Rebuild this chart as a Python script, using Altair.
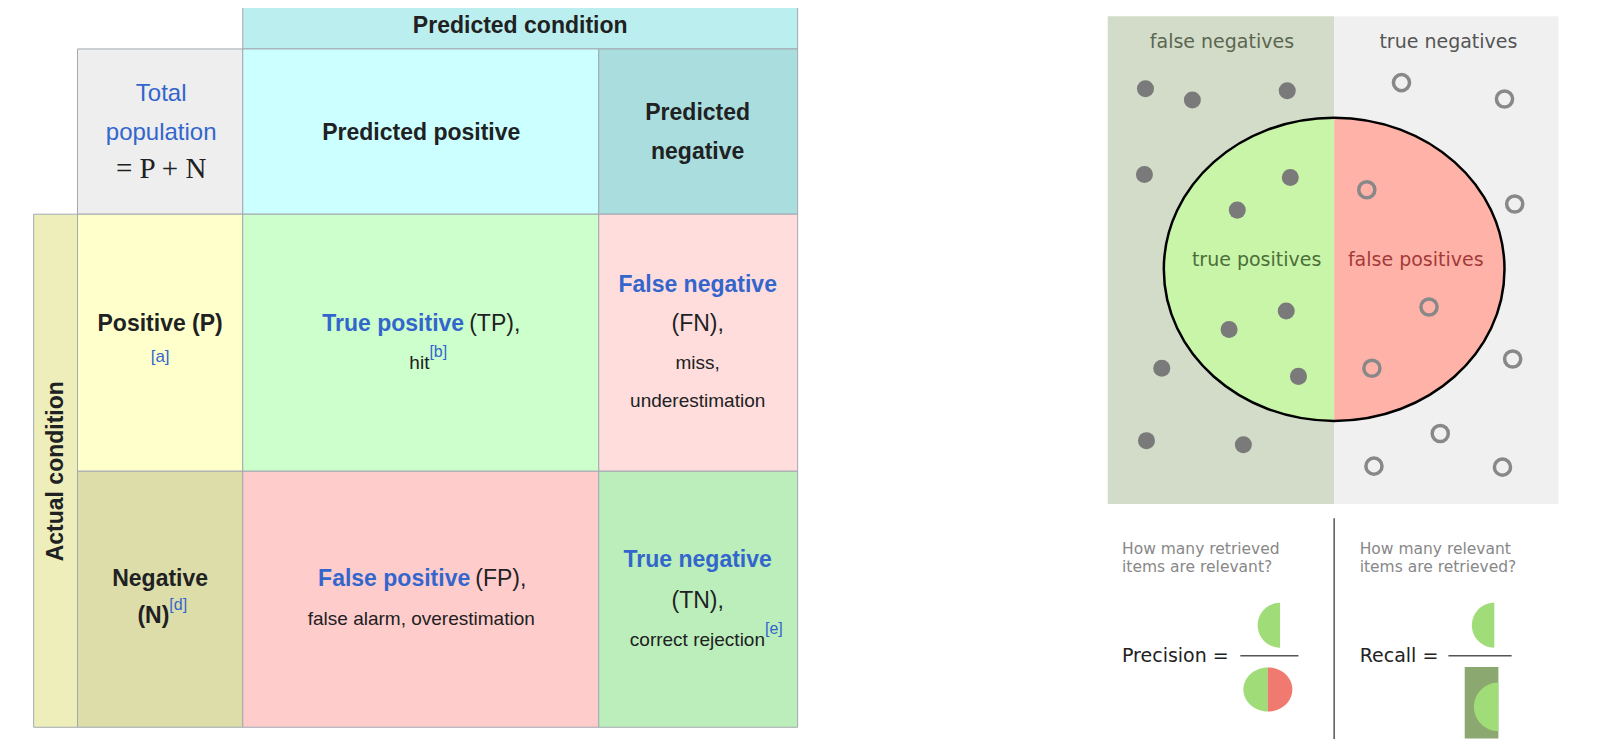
import altair as alt
import pandas as pd

# ---- confusion-matrix table (left) ----
cell_names = ["head", "total", "pred_pos", "pred_neg", "actual", "pos", "neg",
              "tp", "fn", "fp", "tn"]
cell_x1 = [238, 76, 238, 587, 33, 76, 76, 238, 587, 238, 587]
cell_x2 = [782, 238, 587, 782, 76, 238, 238, 587, 782, 587, 782]
cell_y1 = [1, 48, 48, 48, 210, 210, 462, 210, 210, 462, 462]
cell_y2 = [48, 210, 210, 210, 713, 462, 713, 462, 462, 713, 713]
cell_fill = ["#bbeeee", "#eeeeee", "#ccffff", "#aadddd", "#eeeebb", "#ffffcc",
             "#ddddaa", "#ccffcc", "#ffdddd", "#ffcccc", "#bbeebb"]

BLUE = "#3366cc"
DARK = "#202122"

# (x, y, text, colour, size, weight, align)
table_texts = [
    (510, 25, "Predicted condition", DARK, 23, "bold", "center"),
    (158, 92, "Total", BLUE, 24, "normal", "center"),
    (158, 130, "population", BLUE, 24, "normal", "center"),
    (413, 130, "Predicted positive", DARK, 23, "bold", "center"),
    (684, 111, "Predicted", DARK, 23, "bold", "center"),
    (684, 149, "negative", DARK, 23, "bold", "center"),
    (157, 318, "Positive (P)", DARK, 23, "bold", "center"),
    (157, 350, "[a]", BLUE, 17, "normal", "center"),
    (455, 318, "True positive", BLUE, 23, "bold", "right"),
    (460, 318, "(TP),", DARK, 23, "normal", "left"),
    (421, 356, "hit", DARK, 19, "normal", "right"),
    (421, 345, "[b]", BLUE, 16, "normal", "left"),
    (684, 279, "False negative", BLUE, 23, "bold", "center"),
    (684, 318, "(FN),", DARK, 23, "normal", "center"),
    (684, 356, "miss,", DARK, 19, "normal", "center"),
    (684, 393, "underestimation", DARK, 19, "normal", "center"),
    (157, 568, "Negative", DARK, 23, "bold", "center"),
    (166, 604, "(N)", DARK, 23, "bold", "right"),
    (166, 593, "[d]", BLUE, 16, "normal", "left"),
    (461, 568, "False positive", BLUE, 23, "bold", "right"),
    (466, 568, "(FP),", DARK, 23, "normal", "left"),
    (413, 607, "false alarm, overestimation", DARK, 19, "normal", "center"),
    (684, 549, "True negative", BLUE, 23, "bold", "center"),
    (684, 589, "(TN),", DARK, 23, "normal", "center"),
    (750, 627, "correct rejection", DARK, 19, "normal", "right"),
    (750, 617, "[e]", BLUE, 16, "normal", "left"),
]
formula_text = (158, 166, "= P + N")
actual_text = (55, 462, "Actual condition")

# ---- precision / recall diagram (right) ----
bg_x1 = [1086, 1308]
bg_x2 = [1308, 1528]
bg_fill = ["#d2dcc9", "#f0f0f0"]
bg_y = (16, 494)

ellipse_center = (1308, 264)
ellipse_rx = 167

relevant_x = [1123, 1169, 1262, 1122, 1265, 1213, 1261, 1205, 1273, 1139, 1124, 1219]
relevant_y = [87, 98, 89, 171, 174, 206, 305, 323, 369, 361, 432, 436]
other_x = [1374, 1475, 1340, 1485, 1401, 1345, 1483, 1412, 1347, 1473]
other_y = [81, 97, 186, 200, 301, 361, 352, 425, 457, 458]

diagram_texts = [
    (1198, 41, "false negatives", "#5a6650", 19, "center"),
    (1420, 41, "true negatives", "#555555", 19, "center"),
    (1232, 255, "true positives", "#4d6e3a", 19, "center"),
    (1388, 255, "false positives", "#a33a3a", 19, "center"),
    (1100, 538, "How many retrieved", "#888888", 15.5, "left"),
    (1100, 556, "items are relevant?", "#888888", 15.5, "left"),
    (1333, 538, "How many relevant", "#888888", 15.5, "left"),
    (1333, 556, "items are retrieved?", "#888888", 15.5, "left"),
    (1100, 643, "Precision =", "#222222", 19, "left"),
    (1333, 643, "Recall =", "#222222", 19, "left"),
]

GREEN = "#a0dc78"
RED = "#f07a70"

K = 1.02
X = alt.Scale(domain=[0, 1600], range=[-8, 1600 * K - 8], zero=False, nice=False)
Y = alt.Scale(domain=[0, 747], range=[-8, 747 * K - 8], zero=False, nice=False)

LEFT_HALF = "M0,-{r} A1,{r} 0 0,0 0,{r} Z"
RIGHT_HALF = "M0,-{r} A1,{r} 0 0,1 0,{r} Z"
FULL = "M-1,0 A1,{r} 0 1,1 1,0 A1,{r} 0 1,1 -1,0 Z"


def xy():
    return dict(x=alt.X("x:Q", scale=X, axis=None), y=alt.Y("y:Q", scale=Y, axis=None))


def rects(x1, x2, y1, y2, fills, **kw):
    df = pd.DataFrame({"x": x1, "x2": x2, "y": y1, "y2": y2, "c": fills})
    return alt.Chart(df).mark_rect(**kw).encode(
        x=alt.X("x:Q", scale=X, axis=None), x2="x2",
        y=alt.Y("y:Q", scale=Y, axis=None), y2="y2",
        color=alt.Color("c:N", scale=None))


def shape(x, y, path, diameter, fill, **kw):
    df = pd.DataFrame({"x": [x], "y": [y]})
    return alt.Chart(df).mark_point(shape=path, size=(diameter * K) ** 2, filled=True,
                                    fill=fill, opacity=1, **kw).encode(**xy())


def texts(rows, font, weight="normal", angle=0):
    layers = []
    for r in rows:
        df = pd.DataFrame({"x": [r[0]], "y": [r[1]], "t": [r[2]]})
        layers.append(alt.Chart(df).mark_text(
            font=font, fontWeight=weight, angle=angle, baseline="middle",
            color=r[3], fontSize=r[4], align=r[5] if len(r) > 5 else "center"
        ).encode(text="t:N", **xy()))
    return layers


table = rects(cell_x1, cell_x2, cell_y1, cell_y2, cell_fill, stroke="#a2a9b1", strokeWidth=1)

table_text_layers = []
for t in table_texts:
    df = pd.DataFrame({"x": [t[0]], "y": [t[1]], "t": [t[2]]})
    table_text_layers.append(alt.Chart(df).mark_text(
        font="Liberation Sans", fontWeight=t[5], color=t[3], fontSize=t[4],
        align=t[6], baseline="middle").encode(text="t:N", **xy()))
table_text_layers += texts([(formula_text[0], formula_text[1], formula_text[2], DARK, 29)],
                           "Liberation Serif")
table_text_layers += texts([(actual_text[0], actual_text[1], actual_text[2], DARK, 23)],
                           "Liberation Sans", weight="bold", angle=270)

bg = rects(bg_x1, bg_x2, [bg_y[0]] * 2, [bg_y[1]] * 2, bg_fill)

ratio = "0.89"
ed = 2 * ellipse_rx
ell_left = shape(*ellipse_center, LEFT_HALF.format(r=ratio), ed, "#c8f5a8", strokeWidth=0)
ell_right = shape(*ellipse_center, RIGHT_HALF.format(r=ratio), ed, "#ffb3a8", strokeWidth=0)
ell_outline = alt.Chart(pd.DataFrame({"x": [ellipse_center[0]], "y": [ellipse_center[1]]})).mark_point(
    shape=FULL.format(r=ratio), size=(ed * K) ** 2, filled=False, stroke="black",
    strokeWidth=2.5, opacity=1).encode(**xy())

dots_df = pd.DataFrame({"x": relevant_x, "y": relevant_y})
dots = alt.Chart(dots_df).mark_circle(size=290, color="#7a7a7a", opacity=1).encode(**xy())
rings_df = pd.DataFrame({"x": other_x, "y": other_y})
rings = alt.Chart(rings_df).mark_point(size=260, stroke="#888888", strokeWidth=3.5,
                                       filled=False, opacity=1).encode(**xy())

diagram_text_layers = texts(diagram_texts, "DejaVu Sans")

rule_df = pd.DataFrame({"x": [1308, 1216, 1420], "x2": [1308, 1273, 1482],
                        "y": [508, 643, 643], "y2": [732, 643, 643]})
rules = alt.Chart(rule_df).mark_rule(color="#555555", strokeWidth=1.5).encode(
    x=alt.X("x:Q", scale=X, axis=None), x2="x2",
    y=alt.Y("y:Q", scale=Y, axis=None), y2="y2")

recall_box = rects([1436], [1469], [654], [724], ["#8aa870"])
icons = [
    shape(1255, 613, LEFT_HALF.format(r=1), 44, GREEN, strokeWidth=0),
    shape(1243, 676, LEFT_HALF.format(r="0.9"), 48, GREEN, strokeWidth=0),
    shape(1243, 676, RIGHT_HALF.format(r="0.9"), 48, RED, strokeWidth=0),
    shape(1465, 613, LEFT_HALF.format(r=1), 44, GREEN, strokeWidth=0),
    recall_box,
    shape(1469, 693, LEFT_HALF.format(r=1), 48, GREEN, strokeWidth=0),
]

chart = alt.layer(
    table, *table_text_layers,
    bg, ell_left, ell_right, dots, rings, ell_outline, *diagram_text_layers,
    rules, *icons
).properties(
    width=1584, height=731, padding=0, autosize=alt.AutoSizeParams(type="none")
).configure_view(stroke=None)

chart.save("out.html", embed_options={"renderer": "svg", "actions": False})
